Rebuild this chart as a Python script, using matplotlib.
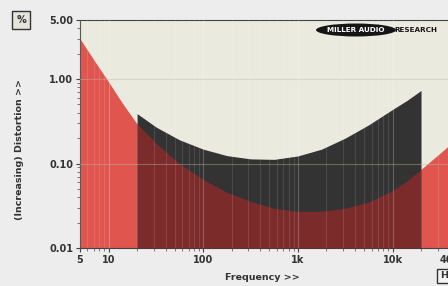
import matplotlib
matplotlib.use("Agg")
import matplotlib.pyplot as plt
from matplotlib.patches import Ellipse
import numpy as np

# Data
red_freq = [5, 7.1, 10, 14, 20, 32, 56, 100, 178, 316, 562, 1000, 1780, 3160, 5620, 10000, 14100, 20000, 28200, 40000]
red_vals = [3.0, 1.65, 0.93, 0.52, 0.295, 0.173, 0.100, 0.0646, 0.0457, 0.0355, 0.0295, 0.0272, 0.0272,
            0.0295, 0.0351, 0.0479, 0.0617, 0.0857, 0.1186, 0.166]
band_freq = [20, 32, 56, 100, 178, 316, 562, 1000, 1780, 3160, 5620, 10000, 14100, 20000]
band_vals = [0.39, 0.269, 0.191, 0.148, 0.124, 0.1135, 0.112, 0.123, 0.148, 0.200, 0.288, 0.437, 0.556, 0.733]
ytick_vals = [0.01, 0.1, 1.0, 5.0]
ytick_labels = ["0.01", "0.10", "1.00", "5.00"]
xtick_vals = [5, 10, 100, 1000, 10000, 40000]
xtick_labels = ["5", "10", "100", "1k", "10k", "40k"]

W, H = 448, 286
fig = plt.figure(figsize=(W / 100, H / 100), dpi=100)
fig.patch.set_facecolor("#ededed")
ax = fig.add_axes([80 / W, 1 - 248 / H, 369.6 / W, 228 / H])
ax.set_facecolor("#ebeadf")
ax.set_xscale("log")
ax.set_yscale("log")
ax.set_xlim(5, 40000)
ax.set_ylim(0.01, 5.0)

# Render the read points on a fine log grid (straight segments in log-log space)
fr = np.logspace(np.log10(5), np.log10(40000), 800)
red = 10 ** np.interp(np.log10(fr), np.log10(red_freq), np.log10(red_vals))
fb = np.logspace(np.log10(20), np.log10(20000), 600)
band = 10 ** np.interp(np.log10(fb), np.log10(band_freq), np.log10(band_vals))
red_in = 10 ** np.interp(np.log10(fb), np.log10(red_freq), np.log10(red_vals))

ax.fill_between(fr, 0.01, red, color="#e0564f", lw=0, zorder=2)
ax.fill_between(fb, 0.01, band, color="#333333", lw=0, zorder=3)
ax.fill_between(fb, 0.01, np.minimum(red_in, band), color="#7c2b2b", lw=0, zorder=4)

# Grid
for d in [1, 10, 100, 1000, 10000]:
    for m in range(1, 10):
        f = d * m
        if 5 <= f <= 40000:
            ax.axvline(f, color="white", alpha=0.24 if m == 1 else 0.11, lw=0.8, zorder=5)
for y in [0.1, 1.0]:
    ax.axhline(y, color="#b8b8a8", alpha=0.4, lw=0.8, zorder=5)

ax.set_yticks(ytick_vals)
ax.set_yticklabels(ytick_labels)
ax.set_xticks(xtick_vals)
ax.set_xticklabels(xtick_labels)
ax.yaxis.set_minor_locator(matplotlib.ticker.LogLocator(subs=np.arange(2, 10)))
ax.yaxis.set_minor_formatter(matplotlib.ticker.NullFormatter())
ax.xaxis.set_minor_formatter(matplotlib.ticker.NullFormatter())
ax.tick_params(axis="both", which="major", labelsize=7, length=3, color="#444444", labelcolor="#333333", pad=2)
ax.tick_params(axis="both", which="minor", length=2, color="#666666")
for lbl in ax.get_xticklabels() + ax.get_yticklabels():
    lbl.set_fontweight("bold")
for s in ax.spines.values():
    s.set_color("#444444")
    s.set_linewidth(0.8)

fig.text(20 / W, 1 - 150 / H, "(Increasing) Distortion >>", rotation=90, ha="center", va="center",
         fontsize=6.8, fontweight="bold", color="#333333")
fig.text(262 / W, 1 - 278 / H, "Frequency >>", ha="center", va="center",
         fontsize=6.8, fontweight="bold", color="#333333")
fig.text(21 / W, 1 - 20 / H, "%", ha="center", va="center", fontsize=7, fontweight="bold", color="#333333",
         bbox=dict(boxstyle="square,pad=0.45", fc="#e4e4da", ec="#333333", lw=1.0))
fig.text(440 / W, 1 - 276 / H, "H", ha="left", va="center", fontsize=6.8, fontweight="bold", color="#333333",
         bbox=dict(boxstyle="square,pad=0.3", fc="#f4f4f4", ec="#333333", lw=1.0))

# Logo
ell = Ellipse((356 / W, 1 - 30 / H), 80 / W, 13 / H, transform=fig.transFigure, fc="#151515", ec="none", zorder=10)
fig.patches.append(ell)
fig.text(356 / W, 1 - 30 / H, "MILLER AUDIO", ha="center", va="center", fontsize=5.2, fontweight="bold",
         color="white", zorder=11)
fig.text(394 / W, 1 - 30 / H, "RESEARCH", ha="left", va="center", fontsize=5.2, fontweight="bold",
         color="#151515", zorder=11)

fig.savefig("out.png", dpi=100, facecolor=fig.get_facecolor())
